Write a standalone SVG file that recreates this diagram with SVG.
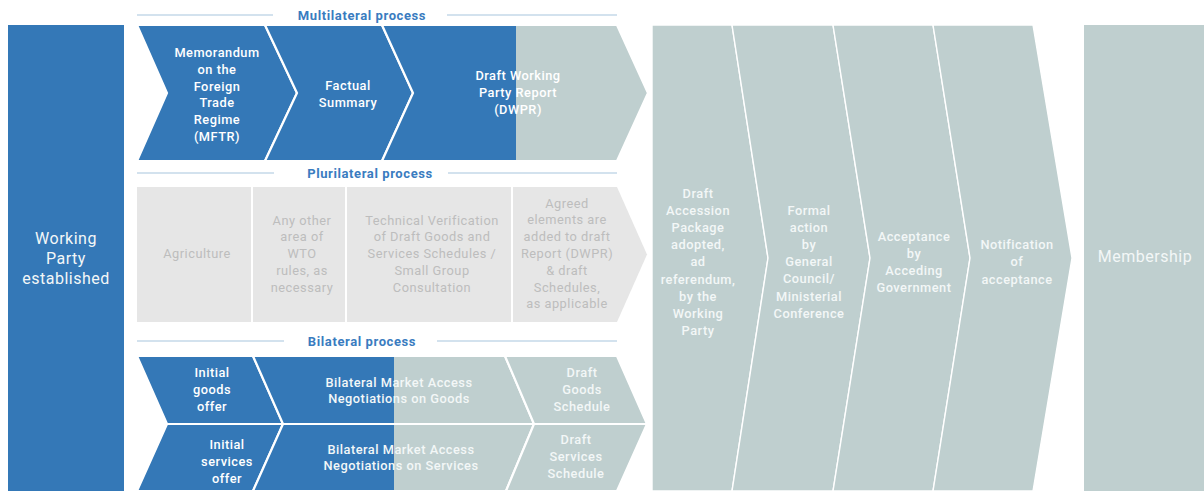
<svg xmlns="http://www.w3.org/2000/svg" width="1204" height="491" viewBox="0 0 1204 491">
<defs>
<style>
.blue{fill:#3478b7;}
.gray{fill:#bfcfcf;}
.pl{fill:#e6e6e6;}
.sep{stroke:#fff;stroke-width:2.2;stroke-linejoin:miter;}
.thin{stroke:#fff;stroke-width:1.4;}
.hl{stroke:#d3e2ee;stroke-width:2;}
.hd{font-family:Roboto,"Liberation Sans",sans-serif;font-size:13px;font-weight:700;fill:#3a7cc0;text-anchor:middle;letter-spacing:0.6px;}
.lb{font-family:Roboto,"Liberation Sans",sans-serif;font-size:12.8px;font-weight:500;fill:#ffffff;text-anchor:middle;letter-spacing:0.5px;}
.lg{font-family:Roboto,"Liberation Sans",sans-serif;font-size:12.8px;font-weight:500;fill:#f3f7f7;text-anchor:middle;letter-spacing:0.5px;}
.lp{font-family:Roboto,"Liberation Sans",sans-serif;font-size:12.8px;font-weight:400;fill:#bdbdbd;text-anchor:middle;letter-spacing:0.5px;}
.big{font-family:Roboto,"Liberation Sans",sans-serif;font-size:16px;font-weight:400;fill:#f3f7f7;text-anchor:middle;letter-spacing:0.5px;}
</style>
<linearGradient id="splitM" gradientUnits="userSpaceOnUse" x1="382" y1="0" x2="648" y2="0">
<stop offset="0.5038" stop-color="#3478b7"/><stop offset="0.5038" stop-color="#bfcfcf"/>
</linearGradient>
<linearGradient id="splitB" gradientUnits="userSpaceOnUse" x1="253" y1="0" x2="534" y2="0">
<stop offset="0.5018" stop-color="#3478b7"/><stop offset="0.5018" stop-color="#bfcfcf"/>
</linearGradient>
</defs>
<rect width="1204" height="491" fill="#ffffff"/>

<g id="headers">
<line class="hl" x1="137" y1="15" x2="273" y2="15"/><line class="hl" x1="447" y1="15" x2="617" y2="15"/>
<text class="hd" x="362" y="19.5">Multilateral process</text>
<line class="hl" x1="137" y1="173" x2="274" y2="173"/><line class="hl" x1="448" y1="173" x2="617" y2="173"/>
<text class="hd" x="370" y="177.5">Plurilateral process</text>
<line class="hl" x1="137" y1="341" x2="284" y2="341"/><line class="hl" x1="437" y1="341" x2="617" y2="341"/>
<text class="hd" x="362" y="345.5">Bilateral process</text>
</g>

<g id="working-party">
<rect class="blue" x="8" y="25" width="116" height="466"/>
<text class="big" x="66" y="243.5"><tspan x="66">Working</tspan><tspan x="66" dy="20">Party</tspan><tspan x="66" dy="20">established</tspan></text>
</g>

<g id="mftr">
<polygon class="blue sep" points="137,25 265,25 297,93 265,161 137,161 167,93"/>
<text class="lb" y="57"><tspan x="217">Memorandum</tspan><tspan x="217" dy="16.8">on the</tspan><tspan x="217" dy="16.8">Foreign</tspan><tspan x="217" dy="16.8">Trade</tspan><tspan x="217" dy="16.8">Regime</tspan><tspan x="217" dy="16.8">(MFTR)</tspan></text>
</g>
<g id="factual-summary">
<polygon class="blue sep" points="265,25 382,25 413,93 382,161 265,161 297,93"/>
<text class="lb" y="89.5"><tspan x="348">Factual</tspan><tspan x="348" dy="17">Summary</tspan></text>
</g>
<g id="dwpr">
<polygon class="sep" fill="url(#splitM)" points="382,25 617,25 648,93 617,161 382,161 413,93"/>
<text class="lb" y="79.5"><tspan x="518">Draft Working</tspan><tspan x="518" dy="17">Party Report</tspan><tspan x="518" dy="17">(DWPR)</tspan></text>
</g>

<g id="agriculture">
<rect class="pl" x="137" y="187" width="114" height="135"/>
<text class="lp" x="197" y="257.5">Agriculture</text>
</g>
<g id="other-areas">
<rect class="pl" x="253" y="187" width="92" height="135"/>
<text class="lp" y="224.5"><tspan x="302">Any other</tspan><tspan x="302" dy="16.8">area of</tspan><tspan x="302" dy="16.8">WTO</tspan><tspan x="302" dy="16.8">rules, as</tspan><tspan x="302" dy="16.8">necessary</tspan></text>
</g>
<g id="technical-verification">
<rect class="pl" x="347" y="187" width="164" height="135"/>
<text class="lp" y="224.5"><tspan x="432">Technical Verification</tspan><tspan x="432" dy="16.8">of Draft Goods and</tspan><tspan x="432" dy="16.8">Services Schedules /</tspan><tspan x="432" dy="16.8">Small Group</tspan><tspan x="432" dy="16.8">Consultation</tspan></text>
</g>
<g id="agreed-elements">
<polygon class="pl" points="513,187 617,187 647,254.5 617,322 513,322"/>
<text class="lp" y="207.5"><tspan x="567">Agreed</tspan><tspan x="567" dy="16.8">elements are</tspan><tspan x="567" dy="16.8">added to draft</tspan><tspan x="567" dy="16.8">Report (DWPR)</tspan><tspan x="567" dy="16.8">&amp; draft</tspan><tspan x="567" dy="16.8">Schedules,</tspan><tspan x="567" dy="16.8">as applicable</tspan></text>
</g>

<g id="initial-goods">
<polygon class="blue sep" points="137,356 253,356 283,424 167,424"/>
<text class="lb" y="376.5"><tspan x="212">Initial</tspan><tspan x="212" dy="17">goods</tspan><tspan x="212" dy="17">offer</tspan></text>
</g>
<g id="negotiations-goods">
<polygon class="sep" fill="url(#splitB)" points="253,356 505,356 534,424 283,424"/>
<text class="lg" y="386.5"><tspan x="399">Bilateral Market Access</tspan><tspan x="399" dy="16.5">Negotiations on Goods</tspan></text>
</g>
<g id="draft-goods">
<polygon class="gray sep" points="505,356 617,356 647,424 534,424"/>
<text class="lg" y="376.5"><tspan x="582">Draft</tspan><tspan x="582" dy="17">Goods</tspan><tspan x="582" dy="17">Schedule</tspan></text>
</g>
<g id="initial-services">
<polygon class="blue sep" points="167,424 283,424 253,491 137,491"/>
<text class="lb" y="448.5"><tspan x="227">Initial</tspan><tspan x="227" dy="17">services</tspan><tspan x="227" dy="17">offer</tspan></text>
</g>
<g id="negotiations-services">
<polygon class="sep" fill="url(#splitB)" points="283,424 534,424 506,491 253,491"/>
<text class="lg" y="453.5"><tspan x="401">Bilateral Market Access</tspan><tspan x="401" dy="16.5">Negotiations on Services</tspan></text>
</g>
<g id="draft-services">
<polygon class="gray sep" points="534,424 647,424 617,491 506,491"/>
<text class="lg" y="443.5"><tspan x="576">Draft</tspan><tspan x="576" dy="17">Services</tspan><tspan x="576" dy="17">Schedule</tspan></text>
</g>

<g id="draft-accession">
<polygon class="gray thin" points="652,25 732,25 768,258 732,491 652,491"/>
<text class="lg" y="197.5"><tspan x="698">Draft</tspan><tspan x="698" dy="17.2">Accession</tspan><tspan x="698" dy="17.2">Package</tspan><tspan x="698" dy="17.2">adopted,</tspan><tspan x="698" dy="17.2">ad</tspan><tspan x="698" dy="17.2">referendum,</tspan><tspan x="698" dy="17.2">by the</tspan><tspan x="698" dy="17.2">Working</tspan><tspan x="698" dy="17.2">Party</tspan></text>
</g>
<g id="formal-action">
<polygon class="gray thin" points="732,25 833,25 870,258 833,491 732,491 768,258"/>
<text class="lg" y="214.5"><tspan x="809">Formal</tspan><tspan x="809" dy="17.2">action</tspan><tspan x="809" dy="17.2">by</tspan><tspan x="809" dy="17.2">General</tspan><tspan x="809" dy="17.2">Council/</tspan><tspan x="809" dy="17.2">Ministerial</tspan><tspan x="809" dy="17.2">Conference</tspan></text>
</g>
<g id="acceptance">
<polygon class="gray thin" points="833,25 933,25 970,258 933,491 833,491 870,258"/>
<text class="lg" y="240.5"><tspan x="914">Acceptance</tspan><tspan x="914" dy="17">by</tspan><tspan x="914" dy="17">Acceding</tspan><tspan x="914" dy="17">Government</tspan></text>
</g>
<g id="notification">
<polygon class="gray thin" points="933,25 1033,25 1072,258 1033,491 933,491 970,258"/>
<text class="lg" y="248.5"><tspan x="1017">Notification</tspan><tspan x="1017" dy="17.5">of</tspan><tspan x="1017" dy="17.5">acceptance</tspan></text>
</g>
<g id="membership">
<rect class="gray" x="1084" y="25" width="120" height="466"/>
<text class="big" x="1145" y="261.5">Membership</text>
</g>
<g id="connectors"></g>
</svg>
